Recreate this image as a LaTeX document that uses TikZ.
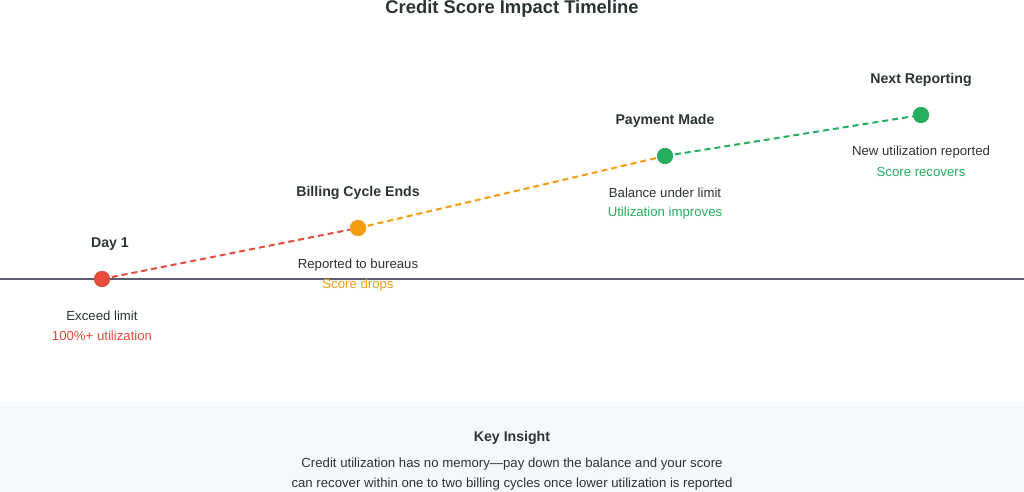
\documentclass[tikz,border=0pt]{standalone}
\usepackage{fontspec}
\setmainfont{Liberation Sans}
\definecolor{cred}{HTML}{E74C3C}
\definecolor{corange}{HTML}{F39C12}
\definecolor{cgreen}{HTML}{27AE60}
\definecolor{ctext}{HTML}{2D3436}
\definecolor{cline}{HTML}{5C5F72}
\definecolor{cpanel}{HTML}{F5F8FA}
\begin{document}
\begin{tikzpicture}[x=0.75pt,y=-0.75pt,
  dot/.style={circle,inner sep=0pt,minimum size=12pt},
  ttl/.style={font=\bfseries\fontsize{10.6}{12}\selectfont,text=ctext,inner sep=0pt},
  desc/.style={font=\fontsize{9.9}{12}\selectfont,text=ctext,inner sep=0pt},
  sub/.style={font=\fontsize{9.9}{12}\selectfont,inner sep=0pt},
  link/.style={dashed,dash pattern=on 4.5pt off 3pt,line width=1.5pt}]
\useasboundingbox (0,0) rectangle (1024,492);
\fill[white] (0,0) rectangle (1024,492);
\fill[cpanel] (0,402) rectangle (1024,492);
% title
\node[font=\bfseries\fontsize{13.8}{16}\selectfont,text=ctext,inner sep=0pt] (title) at (512,9) {Credit Score Impact Timeline};
% baseline
\coordinate (bl) at (0,279);
\coordinate (br) at (1024,279);
\draw[cline,line width=1.2pt] (bl) -- (br);
% dots
\node[dot,fill=cred] (d1) at (102,279) {};
\node[dot,fill=corange] (d2) at (358,228) {};
\node[dot,fill=cgreen] (d3) at (665,156) {};
\node[dot,fill=cgreen] (d4) at (921,115) {};
% links
\draw[link,cred] (d1.center) -- (d2);
\draw[link,corange] (d2.center) -- (d3);
\draw[link,cgreen] (d3.center) -- (d4);
\fill[cred] (d1) circle[radius=6pt];
\fill[corange] (d2) circle[radius=6pt];
\fill[cgreen] (d3) circle[radius=6pt];
\fill[cgreen] (d4) circle[radius=6pt];
% labels
\node[ttl] (t1) at (110,244) {Day 1};
\node[desc] (e1) at (102,316) {Exceed limit};
\node[sub,text=cred] (s1) at (102,336) {100\%+ utilization};
\node[ttl] (t2) at (358,193) {Billing Cycle Ends};
\node[desc] (e2) at (358,265) {Reported to bureaus};
\node[sub,text=corange] (s2) at (358,285) {Score drops};
\node[ttl] (t3) at (665,121) {Payment Made};
\node[desc] (e3) at (665,193) {Balance under limit};
\node[sub,text=cgreen] (s3) at (665,213) {Utilization improves};
\node[ttl] (t4) at (921,80) {Next Reporting};
\node[desc] (e4) at (921,152) {New utilization reported};
\node[sub,text=cgreen] (s4) at (921,172) {Score recovers};
% insight
\node[ttl] (k) at (512,438) {Key Insight};
\node[desc] (k1) at (512,464) {Credit utilization has no memory—pay down the balance and your score};
\node[desc] (k2) at (512,484) {can recover within one to two billing cycles once lower utilization is reported};
\end{tikzpicture}
\end{document}
